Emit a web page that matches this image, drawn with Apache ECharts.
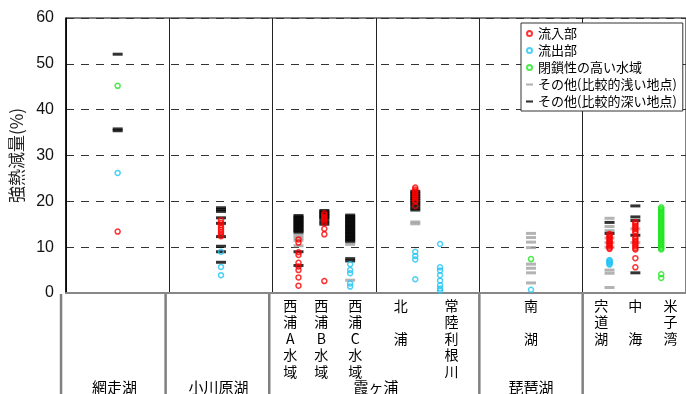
<!DOCTYPE html>
<html>
<head>
<meta charset="utf-8">
<script src="https://cdn.jsdelivr.net/npm/echarts@6/dist/echarts.min.js"></script>
<style>
  html, body { margin: 0; padding: 0; background: #fff; }
  #chart { width: 686px; height: 394px; }
</style>
</head>
<body>
<div id="chart"></div>
<script>
// Sampling sites, in drawing order
const sites = ['網走湖', '小川原湖', '西浦A水域', '西浦B水域', '西浦C水域', '北浦', '常陸利根川', '南湖', '宍道湖', '中海', '米子湾'];

// Loss on ignition (%) per point: [site index, value]
const inflow = [
  [0, 13.4],
  [1, 15.9], [1, 15.3], [1, 14.8], [1, 14.3], [1, 13.8], [1, 13.3], [1, 12.8], [1, 12.4],
  [2, 11.7], [2, 11.0], [2, 8.9], [2, 8.3], [2, 6.6], [2, 5.8], [2, 5.0], [2, 3.4], [2, 1.6],
  [3, 17.4], [3, 17.0], [3, 16.6], [3, 16.2], [3, 15.8], [3, 15.3], [3, 14.0], [3, 12.8], [3, 2.6],
  [5, 23.0], [5, 22.6], [5, 22.2], [5, 21.8], [5, 21.4], [5, 21.0], [5, 20.6], [5, 20.2], [5, 19.9], [5, 19.0],
  [8, 12.9], [8, 12.6], [8, 12.3], [8, 12.0], [8, 11.7], [8, 11.4], [8, 11.1], [8, 10.8], [8, 10.5], [8, 10.2], [8, 9.9], [8, 9.6],
  [9, 15.5], [9, 15.1], [9, 14.7], [9, 14.3], [9, 13.9], [9, 13.5], [9, 13.1], [9, 12.2], [9, 11.8], [9, 11.4], [9, 11.0], [9, 10.6], [9, 10.2], [9, 9.8], [9, 9.5], [9, 7.6], [9, 5.6]
];
const outflow = [
  [0, 26.2],
  [1, 9.0], [1, 5.7], [1, 3.9],
  [4, 6.3], [4, 5.0], [4, 4.3], [4, 2.1], [4, 1.4],
  [5, 9.0], [5, 8.1], [5, 7.3], [5, 3.0],
  [6, 10.7], [6, 5.6], [6, 4.9], [6, 3.9], [6, 2.7], [6, 1.7], [6, 1.0], [6, 0.5],
  [7, 0.7],
  [8, 7.2], [8, 7.0], [8, 6.8], [8, 6.6], [8, 6.4], [8, 6.2]
];
const enclosed = [
  [0, 45.2],
  [7, 7.4],
  [10, 18.7], [10, 18.4], [10, 18.1], [10, 17.8], [10, 17.5], [10, 17.2], [10, 16.9], [10, 16.6], [10, 16.3], [10, 16.0],
  [10, 15.7], [10, 15.4], [10, 15.1], [10, 14.8], [10, 14.5], [10, 14.2], [10, 13.9], [10, 13.6], [10, 13.3], [10, 13.0],
  [10, 12.7], [10, 12.4], [10, 12.1], [10, 11.8], [10, 11.5], [10, 11.2], [10, 10.9], [10, 10.6], [10, 10.3], [10, 10.0],
  [10, 9.7], [10, 9.5], [10, 4.1], [10, 3.3]
];
const otherShallow = [
  [2, 13.0], [2, 12.5], [2, 12.0], [2, 11.5], [2, 10.3],
  [3, 15.3],
  [4, 11.0], [4, 10.6], [4, 2.8],
  [5, 15.5], [5, 15.1],
  [7, 13.0], [7, 12.1], [7, 11.1], [7, 9.9], [7, 6.3], [7, 5.4], [7, 4.4], [7, 2.2],
  [8, 16.3], [8, 14.5], [8, 13.6], [8, 12.0], [8, 11.0], [8, 10.0], [8, 5.0], [8, 4.3], [8, 1.2],
  [9, 14.0], [9, 11.0]
];
const otherDeep = [
  [0, 52.1], [0, 35.8], [0, 35.4],
  [1, 18.6], [1, 18.2], [1, 17.8], [1, 16.4], [1, 15.2], [1, 12.3], [1, 10.2], [1, 9.0], [1, 6.7],
  [2, 16.9], [2, 16.6], [2, 16.3], [2, 16.0], [2, 15.7], [2, 15.4], [2, 15.1], [2, 14.8], [2, 14.5], [2, 14.2], [2, 13.9], [2, 13.6], [2, 13.3], [2, 9.0], [2, 6.0],
  [3, 18.0], [3, 17.7], [3, 17.4], [3, 17.1], [3, 16.8], [3, 16.5], [3, 16.2], [3, 15.6], [3, 15.0],
  [4, 17.0], [4, 16.7], [4, 16.4], [4, 16.1], [4, 15.8], [4, 15.5], [4, 15.2], [4, 14.9], [4, 14.6], [4, 14.3], [4, 14.0],
  [4, 13.7], [4, 13.4], [4, 13.1], [4, 12.8], [4, 12.5], [4, 12.2], [4, 11.9], [4, 11.6], [4, 11.3], [4, 7.5], [4, 7.0],
  [5, 22.2], [5, 21.8], [5, 21.4], [5, 21.0], [5, 20.6], [5, 20.2], [5, 19.8], [5, 19.4], [5, 19.0], [5, 18.5], [5, 18.1],
  [8, 15.4], [8, 13.0],
  [9, 19.0], [9, 16.6], [9, 15.8], [9, 12.6], [9, 4.4]
];

// Y axis ticks
const yTicks = [0, 10, 20, 30, 40, 50, 60];

// Labels for the category table under the plot
const subLabels = ['西\n浦\nA\n水\n域', '西\n浦\nB\n水\n域', '西\n浦\nC\n水\n域', '北\n\n浦', '常\n陸\n利\n根\n川', '南\n\n湖', '宍\n道\n湖', '中\n\n海', '米\n子\n湾'];
const groupNames = ['網走湖', '小川原湖', '霞ヶ浦', '琵琶湖'];

// Horizontal layout (value-axis units, each lake band is one unit wide)
const siteSlot = [0.5, 1.5, 2.25, 2.5, 2.75, 3.38, 3.62, 4.5, 5.26, 5.51, 5.76];
const subLabelSlot = [2.17, 2.47, 2.80, 3.24, 3.73, 4.5, 5.18, 5.51, 5.85];
const groupSlot = [0.47, 1.475, 3.0, 4.5];
const tableEdges = [-0.048, 0.964, 1.967, 4.0, 5.0];

const toPoints = arr => arr.map(([s, v]) => [siteSlot[s], v]);

const CJK = '"Noto Sans CJK JP", "Noto Sans", sans-serif';

const ring = (name, color, data) => ({
  name, type: 'scatter', data: toPoints(data), z: 4,
  symbol: 'circle', symbolSize: 5,
  itemStyle: { color: 'rgba(255,255,255,0)', borderColor: color, borderWidth: 1.5 }
});
const dash = (name, color, data) => ({
  name, type: 'scatter', data: toPoints(data), z: 3,
  symbol: 'rect', symbolSize: [10, 3],
  itemStyle: { color: color }
});

const chart = echarts.init(document.getElementById('chart'), null, { renderer: 'canvas' });

chart.setOption({
  animation: false,
  backgroundColor: '#fff',
  grid: { left: 66, top: 18, width: 622, height: 275, show: true, borderColor: '#000', borderWidth: 1 },
  legend: {
    orient: 'vertical', left: 521, top: 23,
    backgroundColor: '#fff', borderColor: '#333', borderWidth: 1,
    padding: [4, 6, 3, 5], itemGap: 4, itemWidth: 7, itemHeight: 5,
    textStyle: { fontSize: 13, fontFamily: CJK, color: '#000' },
    data: [
      { name: '流入部', icon: 'circle' },
      { name: '流出部', icon: 'circle' },
      { name: '閉鎖性の高い水域', icon: 'circle' },
      { name: 'その他(比較的浅い地点)', icon: 'path://M0,0H10V3H0Z' },
      { name: 'その他(比較的深い地点)', icon: 'path://M0,0H10V3H0Z' }
    ]
  },
  xAxis: {
    type: 'value', min: 0, max: 6, interval: 1,
    axisLine: { show: true, lineStyle: { color: '#888', width: 2 } },
    axisTick: { show: false },
    axisLabel: { show: false },
    splitLine: { show: true, lineStyle: { color: '#222', width: 1 } }
  },
  yAxis: {
    type: 'value', min: yTicks[0], max: yTicks[yTicks.length - 1], interval: 10,
    name: '強熱減量(%)', nameLocation: 'middle', nameGap: 36, nameRotate: 90,
    nameTextStyle: { fontSize: 17, fontFamily: CJK, color: '#222' },
    axisLine: { show: true, lineStyle: { color: '#000', width: 1.5 } },
    axisTick: { show: false },
    axisLabel: { fontSize: 16, fontFamily: '"Liberation Sans", Arial, sans-serif', color: '#111', margin: 12 },
    splitLine: { show: true, lineStyle: { color: '#333', width: 1, type: [8, 7] } }
  },
  series: [
    ring('流入部', '#ff0000', inflow),
    ring('流出部', '#22c4f4', outflow),
    ring('閉鎖性の高い水域', '#22e622', enclosed),
    dash('その他(比較的浅い地点)', '#a0a0a0', otherShallow),
    dash('その他(比較的深い地点)', '#000000', otherDeep)
  ]
});

// Category table below the plot, placed through the x axis scale
const px = x => chart.convertToPixel({ gridIndex: 0 }, [x, 0]);
const baseY = px(0)[1];
const graphics = [];
tableEdges.forEach(e => {
  const p = px(e);
  graphics.push({
    type: 'line', silent: true,
    shape: { x1: p[0], y1: baseY + 1, x2: p[0], y2: 394 },
    style: { stroke: '#808080', lineWidth: 2.5 }
  });
});
subLabels.forEach((t, i) => {
  const p = px(subLabelSlot[i]);
  graphics.push({
    type: 'text', silent: true,
    style: { text: t, x: p[0], y: baseY + 4, align: 'center', verticalAlign: 'top',
             fontSize: 14, fontFamily: CJK, lineHeight: 16.5, fill: '#000' }
  });
});
groupNames.forEach((t, i) => {
  const p = px(groupSlot[i]);
  graphics.push({
    type: 'text', silent: true,
    style: { text: t, x: p[0], y: 387, align: 'center', verticalAlign: 'middle',
             fontSize: 15, fontFamily: CJK, fill: '#000' }
  });
});
chart.setOption({ graphic: graphics });
</script>
</body>
</html>
